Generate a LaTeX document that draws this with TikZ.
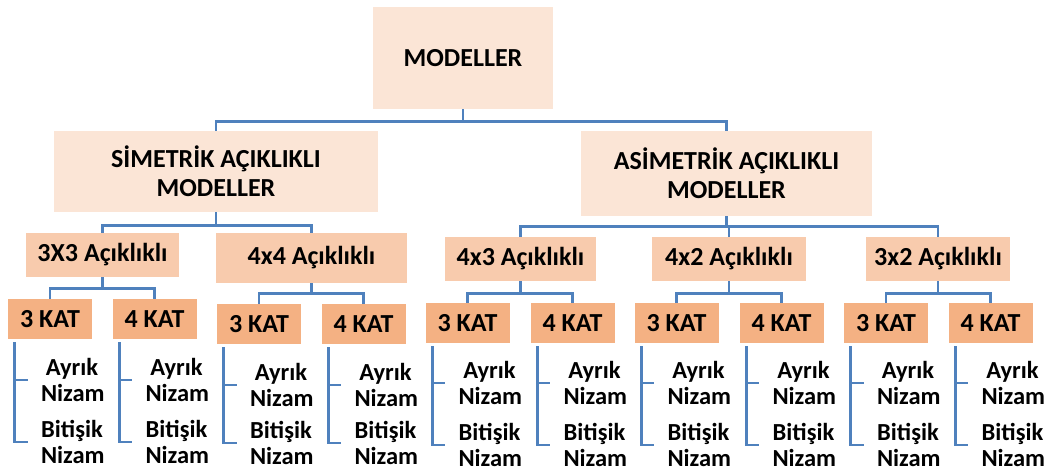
\documentclass[tikz,border=0pt]{standalone}
\usepackage{fontspec}
\setmainfont{Carlito}
\definecolor{peachA}{HTML}{FBE5D6}
\definecolor{peachB}{HTML}{F8CBAD}
\definecolor{peachC}{HTML}{F4B183}
\definecolor{linkblue}{RGB}{79,129,189}
\tikzset{
  box/.style={inner sep=0pt, align=center, font=\bfseries\fontsize{26}{29}\selectfont},
  topbox/.style={box, fill=peachA},
  midbox/.style={box, fill=peachB, minimum height=44pt},
  katbox/.style={box, fill=peachC, minimum width=84pt, minimum height=40pt},
  leaf/.style={inner sep=0pt, align=center, text width=62pt,
    font=\bfseries\fontsize{24.5}{26.5}\selectfont},
  conn/.style={draw=linkblue, line width=2.9pt},
}
\begin{document}
\begin{tikzpicture}[x=1pt, y=-1pt]
  \useasboundingbox (0,0) rectangle (1046,471);

  % root and first level
  \node[topbox, minimum width=180pt, minimum height=102pt] (top) at (463,58) {MODELLER};
  \node[topbox, minimum width=324pt, minimum height=81pt] (sim) at (216,171.5) {SİMETRİK AÇIKLIKLI\\MODELLER};
  \node[topbox, minimum width=291pt, minimum height=85pt] (asim) at (726.5,173.5) {ASİMETRİK AÇIKLIKLI\\MODELLER};

  % span types
  \node[midbox, minimum width=153pt] (a33) at (102.5,255) {3X3 Açıklıklı};
  \node[midbox, minimum width=191pt, minimum height=50pt] (a44) at (311.5,258) {4x4 Açıklıklı};
  \node[midbox, minimum width=151pt] (a43) at (520.5,259) {4x3 Açıklıklı};
  \node[midbox, minimum width=154pt] (a42) at (729,259) {4x2 Açıklıklı};
  \node[midbox, minimum width=144pt] (a32) at (938,259) {3x2 Açıklıklı};

  % storey counts
  \node[katbox] (k1) at (50,319) {3 KAT};
  \node[katbox] (k2) at (154.5,319) {4 KAT};
  \node[katbox] (k3) at (259,324) {3 KAT};
  \node[katbox] (k4) at (363.5,324) {4 KAT};
  \node[katbox] (k5) at (467.5,323) {3 KAT};
  \node[katbox] (k6) at (572.5,323) {4 KAT};
  \node[katbox] (k7) at (676.5,323) {3 KAT};
  \node[katbox] (k8) at (781.5,323) {4 KAT};
  \node[katbox] (k9) at (886,323) {3 KAT};
  \node[katbox] (k10) at (990.5,323) {4 KAT};

  % elbow connectors
  \foreach \p/\c/\d in {top/sim/12, top/asim/12,
      sim/a33/13, sim/a44/13,
      asim/a43/10, asim/a42/10, asim/a32/10,
      a33/k1/11, a33/k2/11, a44/k3/10, a44/k4/10,
      a43/k5/12, a43/k6/12, a42/k7/12, a42/k8/12, a32/k9/12, a32/k10/12}
    \draw[conn] (\p.south) -- ++(0,\d) -| (\c.north);

  % layout options under each storey box
  \foreach \k/\ya/\yb in {k1/380/442, k2/380/442, k3/385/443, k4/385/443,
      k5/383/445, k6/383/445, k7/383/445, k8/383/445, k9/383/445, k10/383/445} {
    \path (\k.center) ++(22,0) coordinate (\k-x);
    \node[leaf] (\k-a) at (\k-x |- 0,\ya) {Ayrık\\Nizam};
    \node[leaf] (\k-b) at (\k-x |- 0,\yb) {Bitişik\\Nizam};
    \draw[conn] ([xshift=7pt,yshift=-3pt]\k.south west) |- ([xshift=-13pt]\k-b.west);
    \draw[conn] ([xshift=7pt,yshift=-3pt]\k.south west) |- ([xshift=-13pt]\k-a.west);
  }
\end{tikzpicture}
\end{document}
